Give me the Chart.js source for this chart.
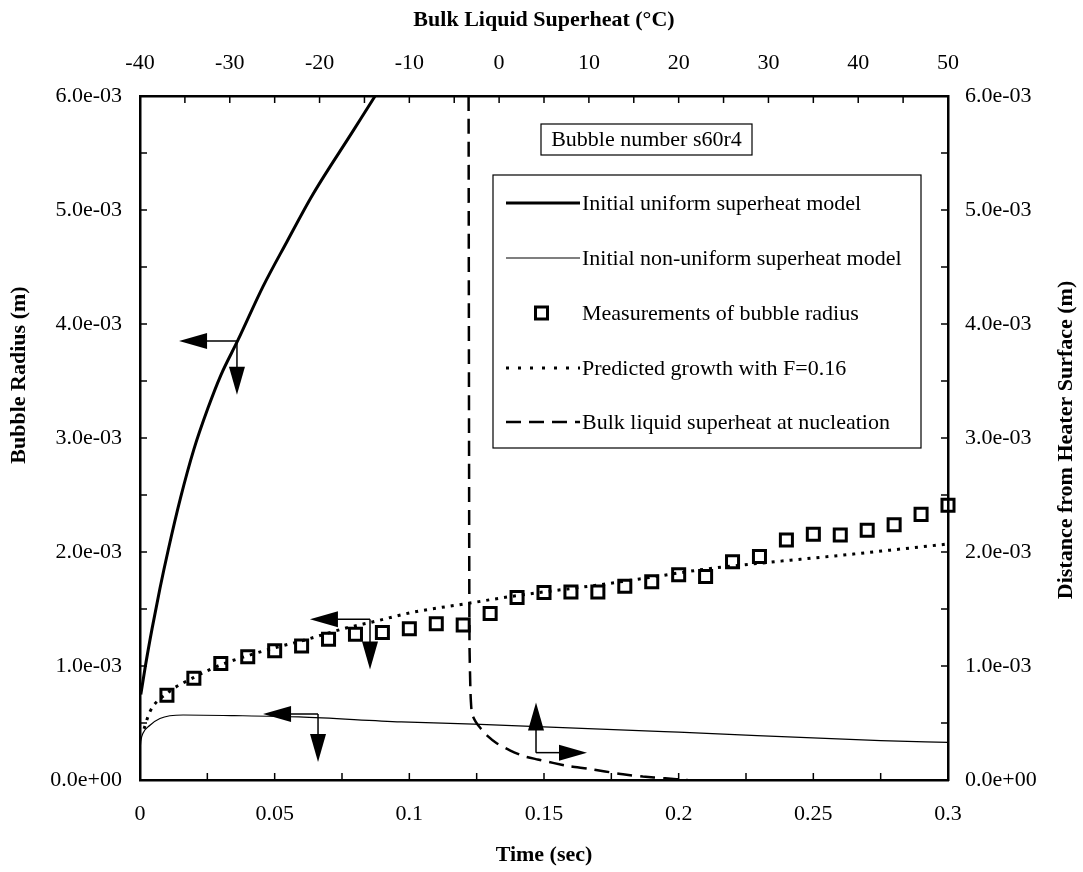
<!DOCTYPE html>
<html><head><meta charset="utf-8">
<script src="https://cdn.jsdelivr.net/npm/chart.js@4.4.0/dist/chart.umd.min.js"></script>
<style>html,body{margin:0;padding:0;background:#fff}canvas{display:block}</style>
</head><body>
<canvas id="c" width="1083" height="872"></canvas>
<script>
// ---- tick values ----
const timeTicks = [0, 0.05, 0.1, 0.15, 0.2, 0.25, 0.3];
const superheatTicks = [-40, -30, -20, -10, 0, 10, 20, 30, 40, 50];
const radiusTicks = [0, 0.001, 0.002, 0.003, 0.004, 0.005, 0.006];
const distanceTicks = [0, 0.001, 0.002, 0.003, 0.004, 0.005, 0.006];

// ---- series ----
const uniformTime   = [0.0003, 0.002, 0.0045, 0.0074, 0.0105, 0.015, 0.020, 0.0252, 0.030, 0.0364, 0.0457, 0.0545, 0.064, 0.079, 0.0873, 0.090];
const uniformRadius = [0.00075, 0.001, 0.00133, 0.00168, 0.00202, 0.00247, 0.0029, 0.00326, 0.00355, 0.00386, 0.00433, 0.00472, 0.00513, 0.00569, 0.0060, 0.0061];

const nonUniformTime   = [0, 0.0003, 0.0011, 0.0037, 0.0074, 0.016, 0.035, 0.059, 0.097, 0.124, 0.2, 0.275, 0.3];
const nonUniformRadius = [0.00025, 0.00034, 0.00041, 0.00048, 0.00054, 0.00057, 0.000565, 0.000553, 0.00051, 0.00049, 0.00042, 0.000345, 0.00033];

const measTime   = [0.01, 0.02, 0.03, 0.04, 0.05, 0.06, 0.07, 0.08, 0.09, 0.10, 0.11, 0.12, 0.13, 0.14, 0.15, 0.16, 0.17, 0.18, 0.19, 0.20, 0.21, 0.22, 0.23, 0.24, 0.25, 0.26, 0.27, 0.28, 0.29, 0.30];
const measRadius = [0.000744, 0.000892, 0.001022, 0.001082, 0.001133, 0.001175, 0.001235, 0.001278, 0.001294, 0.001327, 0.00137, 0.00136, 0.00146, 0.0016, 0.001645, 0.00165, 0.00165, 0.0017, 0.00174, 0.0018, 0.001785, 0.001915, 0.00196, 0.002105, 0.002155, 0.00215, 0.00219, 0.00224, 0.00233, 0.00241];

const predTime   = [0.0015, 0.0037, 0.01, 0.02, 0.03, 0.04, 0.05, 0.06, 0.076, 0.087, 0.101, 0.122, 0.135, 0.15, 0.17, 0.19, 0.21, 0.238, 0.26, 0.28, 0.3];
const predRadius = [0.00045, 0.0006, 0.00076, 0.0009, 0.00101, 0.00109, 0.00116, 0.00122, 0.00133, 0.00139, 0.00147, 0.00155, 0.0016, 0.00165, 0.00171, 0.00178, 0.00185, 0.00192, 0.00197, 0.00202, 0.00207];

const bulkSuperheat = [-3.4, -3.35, -3.3, -3.2, -3.15, -3.02, -2.6, -2.13, -1.2, -0.23, 1.2, 2.7, 4.3, 6.0, 7.9, 9.8, 11.8, 13.8, 16, 18.5, 21];
const bulkDistance  = [0.006, 0.003, 0.0012, 0.0008, 0.0007, 0.00058, 0.00051, 0.00046, 0.00038, 0.00032, 0.00026, 0.00021, 0.00018, 0.00015, 0.00012, 0.0001, 0.000075, 0.00005, 0.00003, 0.000015, 0];

const seriesLabels = ['Initial uniform superheat model', 'Initial non-uniform superheat model', 'Measurements of bubble radius', 'Predicted growth with F=0.16', 'Bulk liquid superheat at nucleation'];

// axis-indicator arrows (data coordinates): junction, horizontal tip, vertical tip
const arrowXAxis = ['x', 'x', 'x', 'x2'];
const arrowYAxis = ['y', 'y', 'y', 'y2'];
const arrowJx = [0.036, 0.0854, 0.0661, 4.11];
const arrowJy = [0.00385, 0.00141, 0.000578, 0.00024];
const arrowHx = [0.0145, 0.0631, 0.0457, 9.79];
const arrowVy = [0.00338, 0.00097, 0.000157, 0.00068];

const FONT = "'Liberation Serif','Times New Roman',serif";
const pts = (xs, ys) => xs.map((x, i) => ({x: x, y: ys[i]}));

function fmtE(v) {
  if (Math.abs(v) < 1e-12) return '0.0e+00';
  const e = Math.floor(Math.log10(Math.abs(v)) + 1e-9);
  const m = v / Math.pow(10, e);
  return m.toFixed(1) + 'e' + (e < 0 ? '-' : '+') + String(Math.abs(e)).padStart(2, '0');
}
function fmtN(v) { return String(parseFloat(v.toFixed(4))); }

const tickFont = {family: FONT, size: 22};
function mkScale(pos, list, fmt, size, pad) {
  return {
    type: 'linear', position: pos,
    min: list[0], max: list[list.length - 1],
    afterBuildTicks: s => { s.ticks = list.map(v => ({value: v})); },
    afterFit: s => { if (pos === 'left' || pos === 'right') s.width = size; else s.height = size; },
    grid: {display: false, drawTicks: false},
    border: {display: true, width: 2.5, color: '#000'},
    ticks: {font: tickFont, color: '#000', padding: pad, autoSkip: false, maxRotation: 0, callback: v => fmt(v)}
  };
}

const scales = {
  x: mkScale('bottom', timeTicks, fmtN, 92, 21),
  x2: mkScale('top', superheatTicks, fmtN, 96, 20),
  y: mkScale('left', radiusTicks, fmtE, 140, 18),
  y2: mkScale('right', distanceTicks, fmtE, 135, 17)
};
scales.x.title = {display: true, text: 'Time (sec)', color: '#000', font: {family: FONT, size: 22, weight: 'bold'}, padding: {top: 0, bottom: 3}};
scales.x2.title = {display: true, text: 'Bulk Liquid Superheat (°C)', color: '#000', font: {family: FONT, size: 22, weight: 'bold'}, padding: {top: 7, bottom: 0}};

const decor = {
  id: 'decor',
  afterDatasetsDraw(chart) {
    const ctx = chart.ctx;
    const sc = chart.scales;
    ctx.save();
    ctx.strokeStyle = '#000'; ctx.fillStyle = '#000'; ctx.lineWidth = 1.5;
    const head = (tx, ty, dx, dy) => {
      const L = 28, W = 8;
      const bx = tx - dx * L, by = ty - dy * L;
      ctx.beginPath();
      ctx.moveTo(tx, ty);
      ctx.lineTo(bx - dy * W, by + dx * W);
      ctx.lineTo(bx + dy * W, by - dx * W);
      ctx.closePath(); ctx.fill();
    };
    for (let i = 0; i < arrowJx.length; i++) {
      const xs = sc[arrowXAxis[i]], ys = sc[arrowYAxis[i]];
      const jx = xs.getPixelForValue(arrowJx[i]), jy = ys.getPixelForValue(arrowJy[i]);
      const hx = xs.getPixelForValue(arrowHx[i]), vy = ys.getPixelForValue(arrowVy[i]);
      const sx = Math.sign(hx - jx), sy = Math.sign(vy - jy);
      ctx.beginPath(); ctx.moveTo(jx, jy); ctx.lineTo(hx - sx * 20, jy); ctx.stroke();
      ctx.beginPath(); ctx.moveTo(jx, jy); ctx.lineTo(jx, vy - sy * 20); ctx.stroke();
      head(hx, jy, sx, 0);
      head(jx, vy, 0, sy);
    }
    ctx.restore();
  },
  afterDraw(chart) {
    const ctx = chart.ctx;
    const sc = chart.scales;
    ctx.save();
    ctx.strokeStyle = '#000'; ctx.fillStyle = '#000';
    // inward major + minor ticks
    ctx.lineWidth = 1.5;
    const L = 7;
    const a = chart.chartArea;
    const doTicks = (scale, list, draw) => {
      const step = (list[1] - list[0]) / 2;
      for (let k = 0; k <= (list.length - 1) * 2; k++) draw(scale.getPixelForValue(list[0] + k * step));
    };
    doTicks(sc.x, timeTicks, p => { ctx.beginPath(); ctx.moveTo(p, a.bottom); ctx.lineTo(p, a.bottom - L); ctx.stroke(); });
    doTicks(sc.x2, superheatTicks, p => { ctx.beginPath(); ctx.moveTo(p, a.top); ctx.lineTo(p, a.top + L); ctx.stroke(); });
    doTicks(sc.y, radiusTicks, p => { ctx.beginPath(); ctx.moveTo(a.left, p); ctx.lineTo(a.left + L, p); ctx.stroke(); });
    doTicks(sc.y2, distanceTicks, p => { ctx.beginPath(); ctx.moveTo(a.right, p); ctx.lineTo(a.right - L, p); ctx.stroke(); });

    // vertical axis titles (both read bottom-to-top)
    ctx.font = 'bold 22px ' + FONT;
    ctx.textAlign = 'center'; ctx.textBaseline = 'middle';
    ctx.save(); ctx.translate(19, 375); ctx.rotate(-Math.PI / 2); ctx.fillText('Bubble Radius (m)', 0, 0); ctx.restore();
    ctx.save(); ctx.translate(1066, 440); ctx.rotate(-Math.PI / 2); ctx.fillText('Distance from Heater Surface (m)', 0, 0); ctx.restore();

    // title box
    ctx.font = '22px ' + FONT;
    ctx.lineWidth = 1.2;
    ctx.strokeRect(541, 124, 211, 31);
    ctx.fillText('Bubble number s60r4', 646.5, 140);

    // legend box
    ctx.strokeRect(493, 175, 428, 273);
    const rows = [203, 258, 313, 368, 422];
    ctx.textAlign = 'left';
    chart.data.datasets.forEach((ds, i) => {
      const y = rows[i];
      if (ds.showLine) {
        ctx.save();
        ctx.lineWidth = ds.borderWidth;
        ctx.setLineDash(ds.legendDash || []);
        ctx.beginPath(); ctx.moveTo(506, y); ctx.lineTo(580, y); ctx.stroke();
        ctx.restore();
      } else {
        ctx.save(); ctx.lineWidth = 3; ctx.strokeRect(535.5, y - 6, 12, 12); ctx.restore();
      }
      ctx.fillText(ds.label, 582, y + 1);
    });
    ctx.restore();
  }
};

new Chart(document.getElementById('c'), {
  type: 'scatter',
  data: {
    datasets: [
      {label: seriesLabels[0], data: pts(uniformTime, uniformRadius), showLine: true, borderColor: '#000', borderWidth: 3, pointRadius: 0, cubicInterpolationMode: 'monotone', xAxisID: 'x', yAxisID: 'y'},
      {label: seriesLabels[1], data: pts(nonUniformTime, nonUniformRadius), showLine: true, borderColor: '#000', borderWidth: 1.2, pointRadius: 0, cubicInterpolationMode: 'monotone', xAxisID: 'x', yAxisID: 'y'},
      {label: seriesLabels[2], data: pts(measTime, measRadius), showLine: false, clip: 12, pointStyle: 'rect', pointRadius: 8.5, borderColor: '#000', backgroundColor: 'rgba(0,0,0,0)', pointBorderWidth: 3, borderWidth: 3, xAxisID: 'x', yAxisID: 'y'},
      {label: seriesLabels[3], data: pts(predTime, predRadius), showLine: true, borderColor: '#000', borderWidth: 3, borderDash: [3, 6], legendDash: [3, 9], pointRadius: 0, cubicInterpolationMode: 'monotone', xAxisID: 'x', yAxisID: 'y'},
      {label: seriesLabels[4], data: pts(bulkSuperheat, bulkDistance), showLine: true, borderColor: '#000', borderWidth: 2.5, borderDash: [15, 8], legendDash: [15, 8], pointRadius: 0, tension: 0.2, xAxisID: 'x2', yAxisID: 'y2'}
    ]
  },
  options: {
    responsive: false, animation: false, devicePixelRatio: 1,
    layout: {padding: 0},
    plugins: {legend: {display: false}, tooltip: {enabled: false}},
    scales: scales
  },
  plugins: [decor]
});
</script>
</body></html>
